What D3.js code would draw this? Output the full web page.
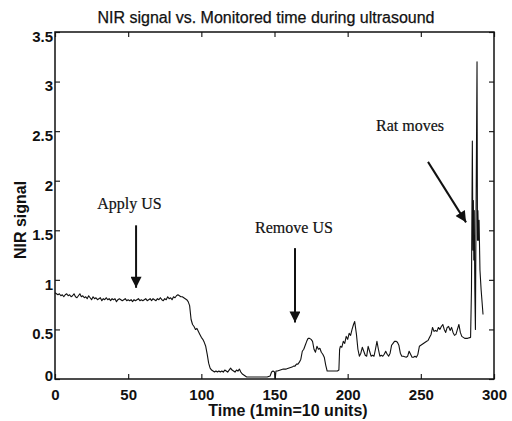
<!DOCTYPE html>
<html>
<head>
<meta charset="utf-8">
<script src="https://cdn.jsdelivr.net/npm/d3@7"></script>
<style>
  body { margin: 0; background: #fff; }
  .c_tick text { font-family: "Liberation Sans Narrow", "Liberation Sans", Arial, sans-serif; font-weight: bold; font-size: 15px; fill: #111; }
  .c_label { font-family: "Liberation Sans Narrow", "Liberation Sans", Arial, sans-serif; font-weight: bold; font-size: 16px; fill: #111; }
  .c_title { font-family: "Liberation Sans", Arial, sans-serif; font-size: 16px; fill: #111; stroke: #111; stroke-width: 0.25px; }
  .c_note { font-family: "Liberation Serif", "Times New Roman", serif; font-size: 16px; fill: #111; stroke: #111; stroke-width: 0.2px; }
</style>
</head>
<body>
<div id="chart"></div>
<script>

const SVG_W = 512;
const SVG_H = 421;

const PLOT_LEFT = 55;
const PLOT_RIGHT = 494;
const PLOT_TOP = 32;
const PLOT_BOTTOM = 379;

const TICK_LEN = 5;

// -------------------------------------------------
// data: [time, NIR signal]

const X_TICKS = [0, 50, 100, 150, 200, 250, 300];
const Y_TICKS = [0, 0.5, 1, 1.5, 2, 2.5, 3, 3.5];

// before and during ultrasound, flat around 0.8
const baseline_samples = [
  [0,0.87],[1,0.86],[2,0.85],[3,0.86],[4,0.84],[5,0.85],[6,0.83],[7,0.85],[8,0.86],[9,0.84],
  [10,0.85],[11,0.83],[12,0.84],[13,0.86],[14,0.83],[15,0.82],[16,0.84],[17,0.86],[18,0.83],[19,0.84],
  [20,0.82],[21,0.83],[22,0.81],[23,0.84],[24,0.82],[25,0.80],[26,0.83],[27,0.81],[28,0.82],[29,0.80],
  [30,0.81],[31,0.82],[32,0.79],[33,0.81],[34,0.80],[35,0.82],[36,0.80],[37,0.81],[38,0.79],[39,0.81],
  [40,0.80],[41,0.81],[42,0.78],[43,0.80],[44,0.81],[45,0.80],[46,0.79],[47,0.80],[48,0.81],[49,0.79],
  [50,0.80],[51,0.79],[52,0.80],[53,0.78],[54,0.80],[55,0.79],[56,0.80],[57,0.81],[58,0.79],[59,0.80],
  [60,0.79],[61,0.80],[62,0.81],[63,0.79],[64,0.80],[65,0.81],[66,0.79],[67,0.81],[68,0.80],[69,0.79],
  [70,0.81],[71,0.80],[72,0.82],[73,0.80],[74,0.79],[75,0.81],[76,0.80],[77,0.83],[78,0.81],[79,0.82],
  [80,0.80],[81,0.83],[82,0.82],[83,0.84],[84,0.85],[85,0.84],[86,0.83],[87,0.83],[88,0.82],[89,0.81],
  [90,0.80]
];

// drop of the signal, then close to zero
const washout_samples = [
  [91,0.78],[92,0.74],[93,0.60],[94,0.55],[95,0.53],[96,0.50],[97,0.51],[98,0.48],[99,0.45],[100,0.42],
  [101,0.40],[102,0.37],[103,0.33],[104,0.25],[105,0.16],[106,0.11],[107,0.09],[108,0.08],[109,0.07],[110,0.08],
  [111,0.07],[112,0.08],[113,0.07],[114,0.08],[115,0.07],[116,0.09],[117,0.08],[118,0.07],[119,0.09],[120,0.11],
  [121,0.09],[122,0.08],[123,0.07],[124,0.09],[125,0.08],[126,0.10],[127,0.07],[128,0.05],[129,0.04],[130,0.03],
  [131,0.02],[135,0.02],[140,0.02],[145,0.02],[147,0.03],[148,0.07],[149,0.08],[150,0.07],[150.5,0.0],[151,0.08]
];

// after the ultrasound is removed
const recovery_samples = [
  [152,0.08],[154,0.09],[156,0.10],[158,0.10],[160,0.11],[162,0.12],[163,0.13],[164,0.13],[165,0.15],[166,0.15],
  [167,0.17],[168,0.20],[169,0.28],[170,0.30],[171,0.34],[172,0.38],[173,0.41],[174,0.41],[175,0.40],[176,0.38],
  [177,0.30],[178,0.27],[179,0.33],[180,0.30],[181,0.31],[182,0.27],[183,0.25],[184,0.22],[185,0.14],[186,0.08],
  [187,0.08],[190,0.08],[193,0.08],[194,0.09],[194.5,0.30],[195,0.33],[196,0.32],[197,0.38],[198,0.36],[199,0.43],
  [200,0.40],[201,0.46],[202,0.44],[203,0.50],[204,0.55],[204.8,0.58],[206,0.45],[207,0.30],[208,0.23],[209,0.26],
  [210,0.32],[211,0.28],[212,0.24],[213,0.23],[214,0.33],[215,0.28],[216,0.23],[217,0.24],[218,0.23],[219,0.30],
  [220,0.38],[221,0.30],[222,0.23],[223,0.24],[224,0.23],[225,0.25],[226,0.28],[227,0.25],[228,0.23],[229,0.26],
  [230,0.34],[231,0.36],[232,0.38],[233,0.38],[234,0.37],[235,0.34],[236,0.26],[237,0.23],[238,0.23],[240,0.22],
  [241,0.23],[242,0.28],[243,0.25],[244,0.22],[245,0.22],[246,0.23],[247,0.22],[248,0.25],[249,0.33],[250,0.34],
  [251,0.35],[252,0.36],[253,0.37],[254,0.38],[255,0.39],[256,0.42],[257,0.45],[258,0.52],[259,0.48],[260,0.49],
  [261,0.48],[262,0.52],[263,0.50],[264,0.53],[265,0.55],[266,0.50],[267,0.47],[268,0.52],[269,0.53],[270,0.49],
  [271,0.52],[272,0.47],[273,0.44],[274,0.45],[275,0.50],[276,0.55],[277,0.47],[278,0.43],[279,0.42],[280,0.41],
  [282,0.41],[284,0.42]
];

// the rat moves: big spikes
const movement_samples = [
  [284.6,0.90],[285.2,2.40],[285.6,1.30],[285.9,1.80],[286.2,1.20],[286.5,1.70],[286.9,0.90],[287.3,0.50],
  [287.7,1.60],[288.1,2.50],[288.4,3.20],[288.7,1.40],[289.0,1.70],[289.4,1.40],[289.8,1.60],[290.4,1.10],
  [291.2,0.90],[292.5,0.65]
];

// notes: text at [time, signal], arrow from -> to in data units
const notes = [
  { label: "Apply US",  text: [50.9, 1.71],  from: [55.4, 1.55],  to: [55.4, 0.92] },
  { label: "Remove US", text: [163.3, 1.47], from: [164.0, 1.32], to: [164.0, 0.57] },
  { label: "Rat moves", text: [242.6, 2.50], from: [254.9, 2.19], to: [280.9, 1.58] }
];

// -------------------------------------------------

function draw_nir_chart(id_div) {

    let svg = d3.select(id_div)
                .append("svg")
                    .attr("width", SVG_W)
                    .attr("height", SVG_H);

    let x = d3.scaleLinear()
                .domain([0, 300])
                .range([PLOT_LEFT, PLOT_RIGHT]);

    let y = d3.scaleLinear()
                .domain([0, 3.5])
                .range([PLOT_BOTTOM, PLOT_TOP]);

    // --------------------------------------------------------------------------------- 

    svg.append("text")
            .attr("class", "c_title")
            .attr("x", 266)
            .attr("y", 23)
            .attr("text-anchor", "middle")
            .text("NIR signal vs. Monitored time during ultrasound");

    // --------------------------------------------------------------------------------- 
    // inward ticks on all four sides

    svg.append("g")
            .attr("class", "c_tick")
            .attr("transform", "translate(0," + PLOT_BOTTOM + ")")
            .call(d3.axisBottom(x).tickValues(X_TICKS).tickSize(-TICK_LEN).tickPadding(10).tickFormat(d3.format("d")));

    let g_left = svg.append("g")
            .attr("class", "c_tick")
            .attr("transform", "translate(" + PLOT_LEFT + ",0)")
            .call(d3.axisLeft(y).tickValues(Y_TICKS).tickSize(-TICK_LEN).tickPadding(2).tickFormat(d3.format("")));

    g_left.selectAll(".tick text")
            .attr("dy", d => d === 0 ? "0.1em" : "0.62em");

    svg.append("g")
            .attr("class", "c_tick")
            .attr("transform", "translate(0," + PLOT_TOP + ")")
            .call(d3.axisTop(x).tickValues(X_TICKS).tickSize(-TICK_LEN).tickFormat(""));

    svg.append("g")
            .attr("class", "c_tick")
            .attr("transform", "translate(" + PLOT_RIGHT + ",0)")
            .call(d3.axisRight(y).tickValues(Y_TICKS).tickSize(-TICK_LEN).tickFormat(""));

    svg.selectAll(".c_tick .domain").remove();
    svg.selectAll(".c_tick line").attr("stroke", "#222").attr("stroke-width", 1.2);

    svg.append("rect")
            .attr("x", PLOT_LEFT)
            .attr("y", PLOT_TOP)
            .attr("width", PLOT_RIGHT - PLOT_LEFT)
            .attr("height", PLOT_BOTTOM - PLOT_TOP)
            .attr("fill", "none")
            .attr("stroke", "#111")
            .attr("stroke-width", 1.5);

    // --------------------------------------------------------------------------------- 

    svg.append("text")
            .attr("class", "c_label")
            .attr("x", 288)
            .attr("y", 416)
            .attr("text-anchor", "middle")
            .text("Time (1min=10 units)");

    svg.append("text")
            .attr("class", "c_label")
            .attr("transform", "translate(26,220) rotate(-90)")
            .attr("text-anchor", "middle")
            .text("NIR signal");

    // --------------------------------------------------------------------------------- 

    let all_samples = baseline_samples
                        .concat(washout_samples)
                        .concat(recovery_samples)
                        .concat(movement_samples);

    let line_nir = d3.line()
                        .x(d => x(d[0]))
                        .y(d => y(d[1]));

    svg.append("path")
            .attr("d", line_nir(all_samples))
            .attr("fill", "none")
            .attr("stroke", "#111")
            .attr("stroke-width", 1.1)
            .attr("stroke-linejoin", "round");

    // --------------------------------------------------------------------------------- 

    svg.append("defs")
        .append("marker")
            .attr("id", "arrow_head")
            .attr("viewBox", "0 0 12 12")
            .attr("refX", 12)
            .attr("refY", 6)
            .attr("markerWidth", 12)
            .attr("markerHeight", 11)
            .attr("markerUnits", "userSpaceOnUse")
            .attr("orient", "auto")
        .append("path")
            .attr("d", "M0,0 L12,6 L0,12 Z")
            .attr("fill", "#111");

    svg.selectAll(".c_arrow")
        .data(notes)
        .enter()
        .append("line")
            .attr("class", "c_arrow")
            .attr("x1", d => x(d.from[0]))
            .attr("y1", d => y(d.from[1]))
            .attr("x2", d => x(d.to[0]))
            .attr("y2", d => y(d.to[1]))
            .attr("stroke", "#111")
            .attr("stroke-width", 2)
            .attr("marker-end", "url(#arrow_head)");

    svg.selectAll(".c_note")
        .data(notes)
        .enter()
        .append("text")
            .attr("class", "c_note")
            .attr("x", d => x(d.text[0]))
            .attr("y", d => y(d.text[1]))
            .attr("text-anchor", "middle")
            .text(d => d.label);
}

draw_nir_chart("#chart");

</script>
</body>
</html>
